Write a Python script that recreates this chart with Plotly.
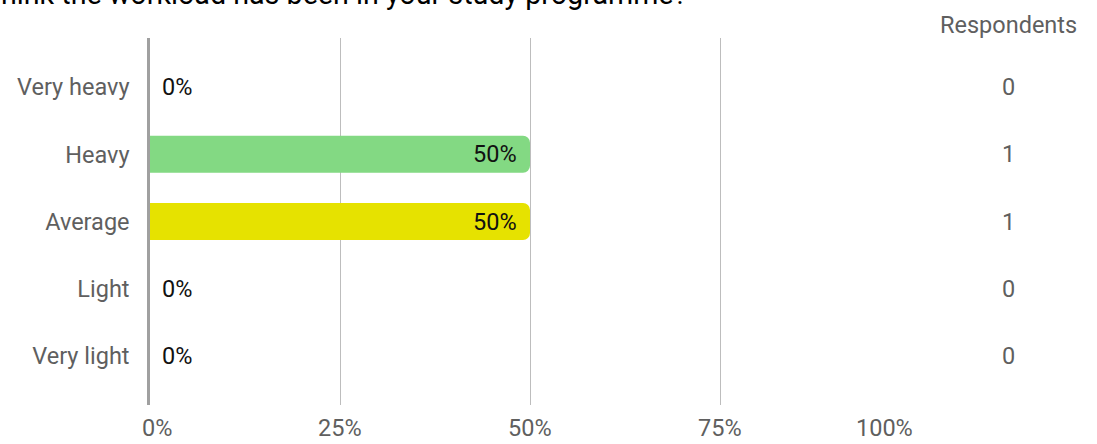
import plotly.graph_objects as go

title_text = "hink the workload has been in your study programme?"
categories = ["Very heavy", "Heavy", "Average", "Light", "Very light"]
percentages = [0, 50, 50, 0, 0]
respondents = [0, 1, 1, 0, 0]
bar_colors = ["#83d983", "#83d983", "#e6e200", "#83d983", "#83d983"]
x_ticks = [0, 25, 50, 75, 100]
x_tick_labels = ["0%", "25%", "50%", "75%", "100%"]

FONT = "Roboto, Arial, sans-serif"
GRAY = "#5f5f5f"
FS = 23.5

fig = go.Figure()
fig.add_trace(go.Bar(
    x=percentages, y=categories, orientation="h",
    marker=dict(color=bar_colors, cornerradius=7, line=dict(width=0)),
    width=0.55, hoverinfo="skip",
))

ann = []
# data labels
for c, p in zip(categories, percentages):
    if p > 0:
        ann.append(dict(x=p, y=c, xref="x", yref="y", text=f"{p}%", showarrow=False,
                        xanchor="right", xshift=-11, font=dict(size=FS, color="#111", family=FONT)))
    else:
        ann.append(dict(x=p, y=c, xref="x", yref="y", text=f"{p}%", showarrow=False,
                        xanchor="left", xshift=10, font=dict(size=FS, color="#111", family=FONT)))
# respondents column
for c, r in zip(categories, respondents):
    ann.append(dict(x=1.129, y=c, xref="paper", yref="y", text=str(r), showarrow=False,
                    xanchor="center", font=dict(size=FS, color=GRAY, family=FONT)))
ann.append(dict(x=1.129, y=1.035, xref="paper", yref="paper", text="Respondents", showarrow=False,
                xanchor="center", yanchor="middle", font=dict(size=FS, color=GRAY, family=FONT)))
# x tick labels
for i, (v, t) in enumerate(zip(x_ticks, x_tick_labels)):
    if i == 0:
        xa, xs = "left", -10
    elif i == len(x_ticks) - 1:
        xa, xs = "right", 5
    else:
        xa, xs = "center", 0
    ann.append(dict(x=v, y=-0.063, xref="x", yref="paper", text=t, showarrow=False,
                    xanchor=xa, xshift=xs, yanchor="middle",
                    font=dict(size=FS, color=GRAY, family=FONT)))
# title (cropped at top)
ann.append(dict(x=-0.199, y=1.068, xref="paper", yref="paper", text=title_text, showarrow=False,
                xanchor="left", yanchor="bottom", font=dict(size=28.7, color="#000", family=FONT)))

fig.update_layout(
    width=1097, height=444,
    margin=dict(l=150, r=187, t=38, b=39),
    paper_bgcolor="white", plot_bgcolor="white",
    showlegend=False,
    annotations=ann,
    xaxis=dict(range=[0, 100], tickvals=x_ticks, showticklabels=False,
               showgrid=True, gridcolor="#bdbdbd", gridwidth=1,
               zeroline=False, showline=False, fixedrange=True),
    yaxis=dict(type="category", categoryorder="array", categoryarray=categories,
               range=[4.73, -0.73], showgrid=False, zeroline=False,
               showline=True, linecolor="#a0a0a0", linewidth=2.5,
               ticks="", ticklabelstandoff=13,
               tickfont=dict(size=FS, color=GRAY, family=FONT), fixedrange=True),
)

fig.write_html("out.html", config={"displayModeBar": False},
               post_script="document.body.style.margin='0';document.body.style.padding='0';")
